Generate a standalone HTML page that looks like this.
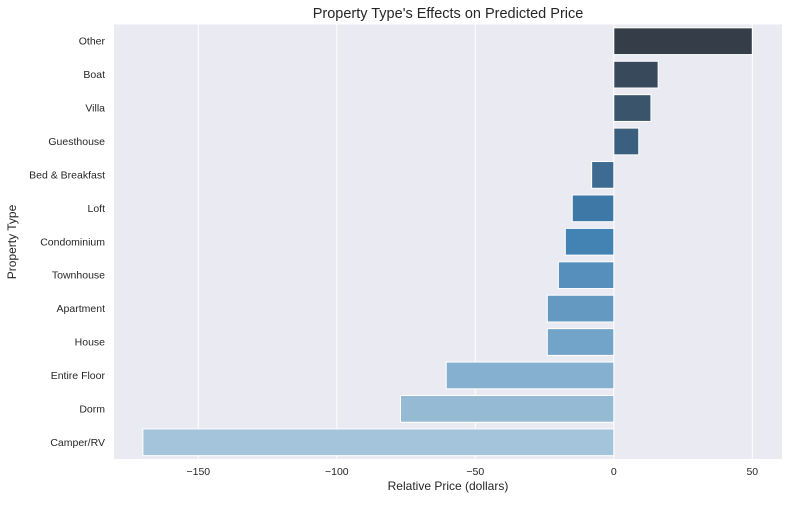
<!DOCTYPE html>
<html><head><meta charset="utf-8"><style>
body{margin:0;background:#fff;font-family:"Liberation Sans","DejaVu Sans",sans-serif}
</style></head><body>
<svg id="chart" width="789" height="500" xmlns="http://www.w3.org/2000/svg" font-family="Liberation Sans, DejaVu Sans, sans-serif">
<text x="448" y="18" text-anchor="middle" font-size="14.5" fill="#262626">Property Type's Effects on Predicted Price</text>
<rect x="114" y="24.5" width="668" height="434.5" fill="#eaeaf2"/>
<g id="grid"></g><g id="bars"></g><g id="xticks"></g><g id="yticks"></g>
<text x="448" y="490" text-anchor="middle" font-size="12" fill="#262626">Relative Price (dollars)</text>
<text transform="translate(16,242) rotate(-90)" text-anchor="middle" font-size="12" fill="#262626">Property Type</text>
</svg>
<script>
const categories=["Other","Boat","Villa","Guesthouse","Bed & Breakfast","Loft","Condominium","Townhouse","Apartment","House","Entire Floor","Dorm","Camper/RV"];
const values=[50,16,13.4,9,-8,-15,-17.5,-20,-24,-24,-60.5,-77,-170];
const xTicks=[-150,-100,-50,0,50];
const colors=["#353e48","#37495a","#39546b","#3b5f7e","#3d6b92","#3e78a6","#4383b4","#568fbc","#6499c2","#72a3c8","#86b0cf","#95bad4","#a3c4da"];
const NS="http://www.w3.org/2000/svg";
const x0=613.8,pxPer=2.77,top0=24.5,band=434.5/13;
const X=v=>x0+v*pxPer;
const Y=i=>top0+band*i;
function mk(t,a,p){const e=document.createElementNS(NS,t);for(const k in a)e.setAttribute(k,a[k]);p.appendChild(e);return e;}
const grid=document.getElementById('grid'),bars=document.getElementById('bars'),xt=document.getElementById('xticks'),yt=document.getElementById('yticks');
xTicks.forEach(t=>{
 const l=mk('line',{x1:X(t),x2:X(t),y1:24.5,y2:459,stroke:'#fff','stroke-width':1},grid);
 
 
 const tx=mk('text',{x:X(t),y:475,'text-anchor':'middle','font-size':10.5,fill:'#262626'},xt);
 tx.textContent=t<0?'\u2212'+Math.abs(t):String(t);
 
 
});
categories.forEach((c,i)=>{
 const v=values[i],h=band*0.8,y=Y(i)+band*0.1;
 const r=mk('rect',{x:Math.min(X(0),X(v)),y:y,width:Math.abs(X(v)-X(0)),height:h,fill:colors[i],stroke:'#fff','stroke-width':1},bars);
 
 
 const tx=mk('text',{x:105,y:Y(i)+band/2+3.5,'text-anchor':'end','font-size':10.5,fill:'#262626'},yt);
 tx.textContent=c;
 
 
});
</script>
</body></html>
